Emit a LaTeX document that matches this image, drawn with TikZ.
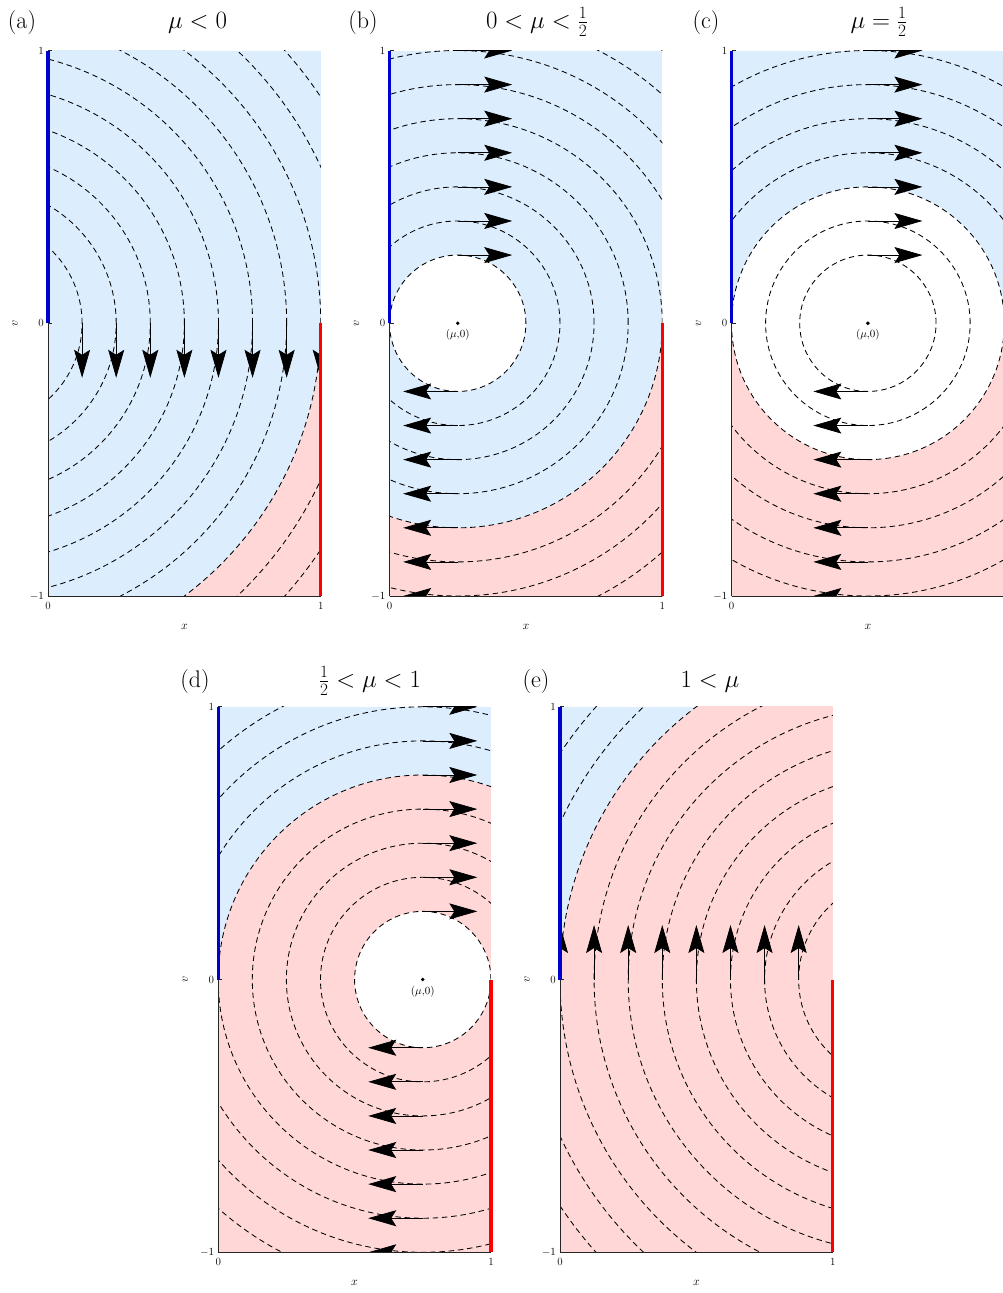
\documentclass[tikz,border=0pt]{standalone}
\usetikzlibrary{arrows.meta}
\definecolor{regionblue}{RGB}{220,237,253}
\definecolor{regionred}{RGB}{255,215,215}
\definecolor{edgeblue}{RGB}{0,0,205}
\definecolor{edgered}{RGB}{255,0,0}
\tikzset{
  orbit/.style={black, line width=0.85pt, dash pattern=on 5.5pt off 3.8pt},
  flowarrow/.style={black, line width=0.75pt, -{Stealth[length=28pt,width=16pt,inset=5pt]}},
  axisline/.style={black!85, line width=0.9pt},
  tickmark/.style={black!85, line width=0.8pt},
  blueedge/.style={edgeblue, line width=3.2pt},
  rededge/.style={edgered, line width=3.2pt},
  ticklabel/.style={font=\fontsize{11}{13}\selectfont, inner sep=0pt},
  axislabel/.style={font=\fontsize{12}{14}\selectfont, inner sep=0pt},
  panellabel/.style={font=\fontsize{24}{28}\selectfont, inner sep=0pt, anchor=base},
  centerdot/.style={fill=black, circle, inner sep=0pt, minimum size=3.8pt},
  centerlabel/.style={font=\fontsize{11}{13}\selectfont, inner sep=0pt},
  panel/.style={x=272.75pt, y=272.75pt},
}
\newcommand\axesframe[1]{%
  \draw[axisline] (0,-1) -- (0,1);
  \draw[axisline] (0,-1) -- (1,-1);
  \foreach \t in {-1,0,1} \draw[tickmark] (0,\t) -- ++(4pt,0);
  \foreach \t in {0,1} \draw[tickmark] (\t,-1) -- ++(0,4pt);
  \draw[blueedge] (0,0) -- (0,1);
  \draw[rededge] (1,-1) -- (1,0);
  \node[ticklabel, anchor=east] (#1ytop) at ([xshift=-4pt]0,1) {1};
  \node[ticklabel, anchor=east] (#1ymid) at ([xshift=-4pt]0,0) {0};
  \node[ticklabel, anchor=east] (#1ybot) at ([xshift=-4pt]0,-1) {$-1$};
  \node[ticklabel, anchor=north] (#1xleft) at ([yshift=-6pt]0,-1) {0};
  \node[axislabel] (#1xlab) at ([yshift=-31pt]0.5,-1) {$x$};
  \node[axislabel, rotate=90] (#1vlab) at ([xshift=-33pt]0,0) {$v$};
}
\newcommand\rightticklabel[1]{%
  \node[ticklabel, anchor=north] (#1xright) at ([yshift=-6pt]1,-1) {1};
}
\begin{document}
\begin{tikzpicture}[x=1pt, y=1pt]
\useasboundingbox (0,0) rectangle (1002,-1293);
\fill[white] (0,0) rectangle (1002,-1293);

% ---------- panel (a): mu = -1/4 ----------
\begin{scope}[shift={(48pt,-323.25pt)}, panel]
  \begin{scope}
    \clip (0,-1) rectangle (1,1);
    \fill[regionblue] (0,0) rectangle (1,1);
    \fill[regionred] (0,-1) rectangle (1,0);
    \fill[regionblue] (-0.25,0) circle (1.25);
    \foreach \r in {0.375,0.5,...,1.5} \draw[orbit] (-0.25,0) circle (\r);
    \foreach \r in {0.375,0.5,...,1.25} \draw[flowarrow] ({-0.25+\r},0) -- ++(0,-0.2);
  \end{scope}
  \axesframe{a}
  \rightticklabel{a}
\end{scope}

% ---------- panel (b): mu = 1/4 ----------
\begin{scope}[shift={(389.5pt,-323.25pt)}, panel]
  \begin{scope}
    \clip (0,-1) rectangle (1,1);
    \fill[regionblue] (0,0) rectangle (1,1);
    \fill[regionred] (0,-1) rectangle (1,0);
    \fill[regionblue] (0.25,0) circle (0.75);
    \fill[white] (0.25,0) circle (0.25);
    \foreach \r in {0.25,0.375,...,1.25} \draw[orbit] (0.25,0) circle (\r);
    \foreach \r in {0.25,0.375,...,1.0} {
      \draw[flowarrow] (0.25,\r) -- ++(0.2,0);
      \draw[flowarrow] (0.25,-\r) -- ++(-0.2,0);
    }
  \end{scope}
  \axesframe{b}
  \rightticklabel{b}
  \node[centerdot] (bdot) at (0.25,0) {};
  \node[centerlabel] (bmu) at ([yshift=-12pt]0.25,0) {$(\mu{,}0)$};
\end{scope}

% ---------- panel (c): mu = 1/2 ----------
\begin{scope}[shift={(731.5pt,-323.25pt)}, panel]
  \begin{scope}
    \clip (0,-1) rectangle (1,1);
    \fill[regionblue] (0,0) rectangle (1,1);
    \fill[regionred] (0,-1) rectangle (1,0);
    \fill[white] (0.5,0) circle (0.5);
    \foreach \r in {0.25,0.375,...,1.0} \draw[orbit] (0.5,0) circle (\r);
    \foreach \r in {0.25,0.375,...,1.0} {
      \draw[flowarrow] (0.5,\r) -- ++(0.2,0);
      \draw[flowarrow] (0.5,-\r) -- ++(-0.2,0);
    }
  \end{scope}
  \axesframe{c}
  \node[centerdot] (cdot) at (0.5,0) {};
  \node[centerlabel] (cmu) at ([yshift=-12pt]0.5,0) {$(\mu{,}0)$};
\end{scope}

% ---------- panel (d): mu = 3/4 ----------
\begin{scope}[shift={(218.2pt,-979.55pt)}, panel]
  \begin{scope}
    \clip (0,-1) rectangle (1,1);
    \fill[regionblue] (0,0) rectangle (1,1);
    \fill[regionred] (0,-1) rectangle (1,0);
    \fill[regionred] (0.75,0) circle (0.75);
    \fill[white] (0.75,0) circle (0.25);
    \foreach \r in {0.25,0.375,...,1.25} \draw[orbit] (0.75,0) circle (\r);
    \foreach \r in {0.25,0.375,...,1.0} {
      \draw[flowarrow] (0.75,\r) -- ++(0.2,0);
      \draw[flowarrow] (0.75,-\r) -- ++(-0.2,0);
    }
  \end{scope}
  \axesframe{d}
  \rightticklabel{d}
  \node[centerdot] (ddot) at (0.75,0) {};
  \node[centerlabel] (dmu) at ([yshift=-12pt]0.75,0) {$(\mu{,}0)$};
\end{scope}

% ---------- panel (e): mu = 5/4 ----------
\begin{scope}[shift={(560pt,-979.55pt)}, panel]
  \begin{scope}
    \clip (0,-1) rectangle (1,1);
    \fill[regionblue] (0,0) rectangle (1,1);
    \fill[regionred] (0,-1) rectangle (1,0);
    \fill[regionred] (1.25,0) circle (1.25);
    \foreach \r in {0.375,0.5,...,1.5} \draw[orbit] (1.25,0) circle (\r);
    \foreach \r in {0.375,0.5,...,1.25} \draw[flowarrow] ({1.25-\r},0) -- ++(0,0.2);
  \end{scope}
  \axesframe{e}
  \rightticklabel{e}
\end{scope}

% ---------- panel labels and titles ----------
\node[panellabel] (la) at (22,-28) {(a)};
\node[panellabel] (lb) at (363,-28) {(b)};
\node[panellabel] (lc) at (706,-28) {(c)};
\node[panellabel] (ld) at (195,-687) {(d)};
\node[panellabel] (le) at (536,-687) {(e)};
\node[panellabel] (ta) at (197.5,-28) {$\mu<0$};
\node[panellabel] (tb) at (537,-28) {$0<\mu<\frac{1}{2}$};
\node[panellabel] (tc) at (879,-28) {$\mu=\frac{1}{2}$};
\node[panellabel] (td) at (370,-687) {$\frac{1}{2}<\mu<1$};
\node[panellabel] (te) at (710,-687) {$1<\mu$};
\end{tikzpicture}
\end{document}
